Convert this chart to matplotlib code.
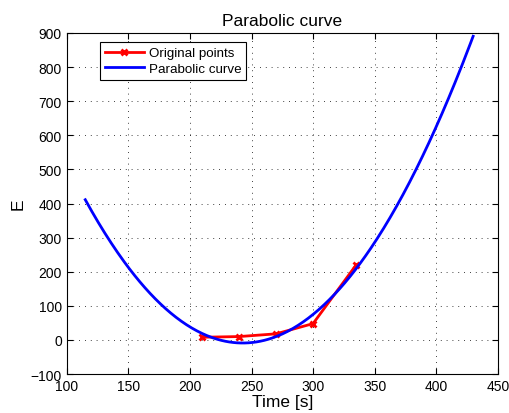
import numpy as np
import matplotlib
matplotlib.use("Agg")
import matplotlib.pyplot as plt

plt.rcParams['font.family'] = ['Liberation Sans', 'DejaVu Sans']

# original measurements
time_s = [210, 240, 270, 300, 335]
energy = [8, 10, 18, 48, 220]

# range of the fitted parabola
fit_start, fit_end = 115, 430

coef = np.polyfit(time_s, energy, 2)
t_fit = np.linspace(fit_start, fit_end, 300)
e_fit = np.polyval(coef, t_fit)

fig = plt.figure(figsize=(5.1, 4.14), dpi=100)
ax = fig.add_axes([0.131, 0.094, 0.845, 0.824])

ax.plot(time_s, energy, color='red', lw=2, marker='x', ms=5, mew=2,
        label='Original points')
ax.plot(t_fit, e_fit, color='blue', lw=2, label='Parabolic curve')

ax.set_xlim(100, 450)
ax.set_ylim(-100, 900)
ax.set_xticks(np.arange(100, 451, 50))
ax.set_yticks(np.arange(-100, 901, 100))
ax.tick_params(direction='in', top=True, right=True, labelsize=10, length=4)
ax.grid(True, color='black', linestyle=(0, (1, 6)), linewidth=0.6)
for s in ax.spines.values():
    s.set_linewidth(0.8)

ax.set_title('Parabolic curve', fontsize=12.5)
ax.set_xlabel('Time [s]', fontsize=12.5, labelpad=1)
ax.set_ylabel('E', fontsize=12.5)

leg = ax.legend(loc='upper left', bbox_to_anchor=(0.078, 0.972), fontsize=9.6,
                fancybox=False, framealpha=1, edgecolor='black',
                handlelength=2.9, borderpad=0.35, labelspacing=0.25,
                handletextpad=0.4, borderaxespad=0)
leg.get_frame().set_linewidth(0.8)

fig.savefig('out.png', dpi=100)
